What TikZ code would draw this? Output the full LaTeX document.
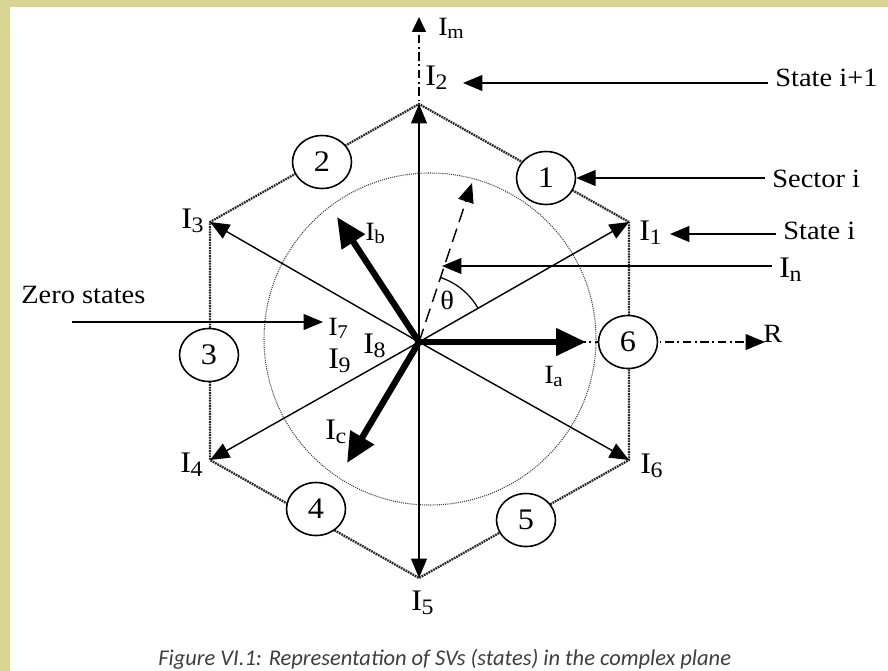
\documentclass[tikz,border=0pt]{standalone}
\usepackage{fontspec}
\setmainfont{Liberation Serif}[FakeStretch=1.08]
\newfontfamily\capfont{Carlito}
\usetikzlibrary{arrows.meta, shapes.geometric}

\definecolor{framepale}{RGB}{216,213,146}
\definecolor{framegold}{RGB}{199,176,74}
\definecolor{capgray}{RGB}{62,62,66}

\newcommand{\cur}[1]{I\kern-0.3pt\raisebox{-0.32ex}{\scalebox{0.74}{#1}}}

\begin{document}
\begin{tikzpicture}[x=0.02cm, y=-0.02cm, >={Triangle[length=11pt,width=9pt]},
    font=\fontsize{15}{17}\selectfont,
    lbl/.style={anchor=base west, inner sep=0pt},
    lblbig/.style={lbl, font=\fontsize{17}{19}\selectfont},
    lblsmall/.style={lbl, font=\fontsize{15}{17}\selectfont},
    vec/.style={->, line width=0.8pt},
    fatvec/.style={-{Triangle[length=17pt,width=15pt]}, line width=3.6pt},
    hexline/.style={line width=1.3pt, black!85, dash pattern=on 1pt off 0.5pt},
    circline/.style={line width=0.6pt, black!75, dash pattern=on 0.6pt off 0.6pt},
    axisline/.style={line width=0.7pt, dash pattern=on 5pt off 2pt on 1pt off 2pt},
    sector/.style={draw, ellipse, fill=white, line width=0.9pt, minimum width=1.18cm,
        minimum height=1.06cm, inner sep=0pt, font=\fontsize{17}{19}\selectfont}]

    % frame
    \useasboundingbox (0,0) rectangle (888,670);
    \fill[white] (0,0) rectangle (888,670);
    \shade[top color=framepale, middle color=framegold, bottom color=framepale] (0,0) rectangle (10,670);
    \fill[framepale] (0,0) rectangle (888,7);

    \coordinate (O) at (419,342);
    \coordinate (v1) at (629,222);
    \coordinate (v2) at (419,104);
    \coordinate (v3) at (210,222);
    \coordinate (v4) at (210,460);
    \coordinate (v5) at (419,578);
    \coordinate (v6) at (629,460);

    % axes
    \coordinate (imtip) at (419,17);
    \coordinate (rtip) at (765,342);
    \draw[axisline, -{Triangle[length=8.5pt,width=8pt]}] (O) -- (imtip);
    \draw[axisline, ->] (O) -- (rtip);

    \draw[hexline] (v1) -- (v2) -- (v3) -- (v4) -- (v5) -- (v6) -- cycle;
    \draw[circline] (430,339) circle[radius=166];

    \foreach \k in {1,...,6}
        \draw[vec] (O) -- (v\k);

    % reference vector and angle
    \coordinate (dtip) at (472,183);
    \draw[vec, dash pattern=on 8pt off 4pt] (O) -- (dtip);
    \draw[line width=0.7pt] (O) ++(-30:68) arc[start angle=-30, end angle=-72, radius=68];

    \coordinate (atip) at (586,342);
    \coordinate (btip) at (337,217);
    \coordinate (ctip) at (347,463);
    \draw[fatvec] (O) -- (atip);
    \draw[fatvec] (O) -- (btip);
    \draw[fatvec] (O) -- (ctip);

    \node[sector] (s1) at (546,178) {1};
    \node[sector] (s2) at (322,162) {2};
    \node[sector] (s3) at (209,355) {3};
    \node[sector] (s4) at (316,509) {4};
    \node[sector] (s5) at (526,520) {5};
    \node[sector] (s6) at (628,342) {6};

    % vector labels
    \node[lblsmall] (lm) at (438,35) {\cur{m}};
    \node[lblbig] (l2) at (425,85) {\cur{2}};
    \node[lblbig] (l1) at (639,240) {\cur{1}};
    \node[lblbig] (l3) at (181,228) {\cur{3}};
    \node[lblbig] (l4) at (180,472) {\cur{4}};
    \node[lblbig] (l5) at (411,610) {\cur{5}};
    \node[lblbig] (l6) at (640,473) {\cur{6}};
    \node[lblsmall] (l7) at (328,335) {\cur{7}};
    \node[lblbig] (l8) at (363,353) {\cur{8}};
    \node[lblbig] (l9) at (328,368) {\cur{9}};
    \node[lbl] (la) at (544,383) {\cur{a}};
    \node[lblsmall] (lb) at (365,240) {\cur{b}};
    \node[lblbig] (lc) at (325,439) {\cur{c}};
    \node[lblbig] (ln) at (779,277) {\cur{n}};
    \node[lbl] (theta) at (440,309) {θ};
    \node[lbl] (lr) at (763,342) {R};

    % callouts
    \node[lbl] (nextstate) at (775,86) {State i+1};
    \node[lbl] (sector) at (772,187) {Sector i};
    \node[lbl] (state) at (783,239) {State i};
    \node[lbl] (zero) at (21,303) {Zero states};

    \coordinate (nexttip) at (463,83);
    \coordinate (statetip) at (670,234);
    \coordinate (ntip) at (442,266);
    \coordinate (zerotail) at (72,322);
    \coordinate (zerotip) at (323,322);
    \draw[vec, shorten <=4pt] (nextstate.west |- nexttip) -- (nexttip);
    \draw[vec, shorten <=4pt] (sector.west |- s1.east) -- (s1.east);
    \draw[vec, shorten <=4pt] (state.west |- statetip) -- (statetip);
    \draw[vec, shorten <=4pt] (ln.west |- ntip) -- (ntip);
    \draw[vec] (zerotail) -- (zerotip);

    \node[lbl, font=\capfont\itshape\fontsize{12.8}{14}\selectfont, text=capgray] (caption) at (158,665)
        {Figure VI.1: Representation of SVs (states) in the complex plane};
\end{tikzpicture}
\end{document}
